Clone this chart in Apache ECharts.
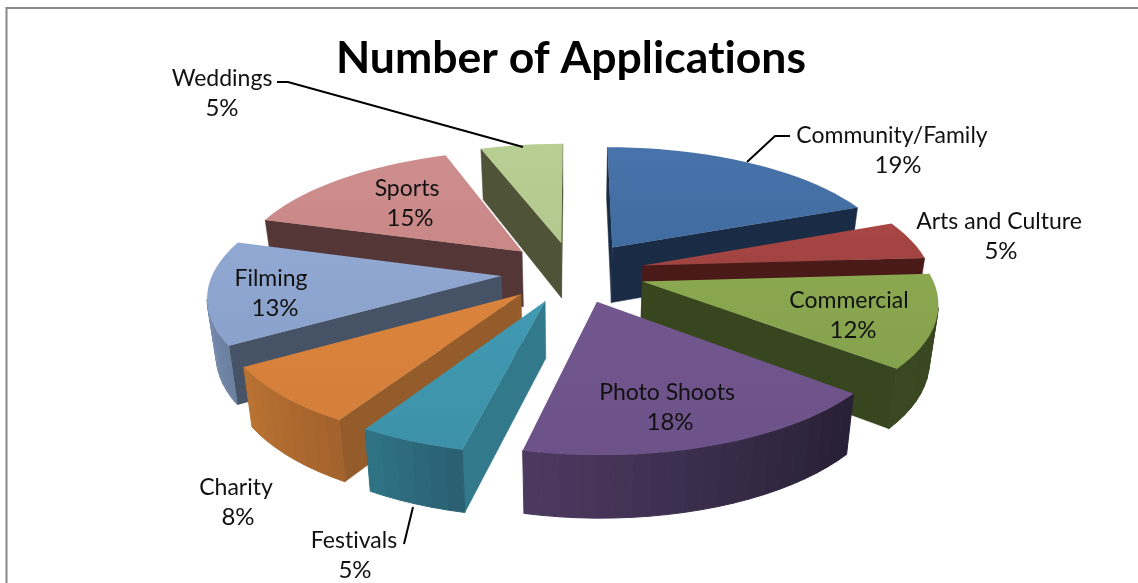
<!DOCTYPE html>
<html><head><meta charset="utf-8">
<style>html,body{margin:0;padding:0;background:#fff}#c{width:1138px;height:583px}</style>
<script src="https://cdn.jsdelivr.net/npm/echarts@6/dist/echarts.min.js"></script>
</head><body><div id="c"></div>
<script>
// ---- data ----
const titleText = 'Number of Applications';
const categories = ['Community/Family','Arts and Culture','Commercial','Photo Shoots','Festivals','Charity','Filming','Sports','Weddings'];
const shares = [19,5,12,17.6,5,7.6,13.4,15,5.4];

// ---- style ----
const topColors = [['#4773aa','#416ca1'],['#a84644','#a04340'],['#8aa850','#85a24c'],['#72578e','#6c5288'],['#409ab2','#3d92a9'],['#da833c','#d47f3a'],['#91a9d2','#8aa2cb'],['#ce8e8e','#c98886'],['#b8ce92','#b2c88c']];
const radialColors = ['#1a2c45','#4a1a18','#384620','#2c2340','#33798c','#945c2a','#465266','#553637','#4f5337'];
const outerColors = [['#1a2c45','#1a2c45'],['#4a1a18','#4a1a18'],['#384620','#3a4822'],['#272036','#4e3a62'],['#2a6072','#2f7688'],['#a4622c','#bb7433'],['#6c80a0','#8ba2c8'],['#553637','#553637'],['#4f5337','#4f5337']];
const labelSpots = [[892,136],[999,222],[849,301],[667,393],[354,541],[236,488],[271,279],[407,189],[222,79]];
const percentShift = [6,2,4,3,1,2,4,3,0];
const leaderLines = [[[790,136],[775,136],[747,162]],[[404,544],[413,507]],[[277,82],[288,82],[523,147]]];
const view = {cx:573, cy:272, A:288, B:121.5, k:0.145, explode:0.25, depth:56, shrink:0.975};
const FONT = 'Lato';

// draw text without the "ti" ligature, as in the picture
const nativeGetContext = HTMLCanvasElement.prototype.getContext;
HTMLCanvasElement.prototype.getContext = function(){
  const ctx = nativeGetContext.apply(this, arguments);
  if (ctx && 'textRendering' in ctx) ctx.textRendering = 'optimizeSpeed';
  return ctx;
};

function hex(c){return [1,3,5].map(i=>parseInt(c.substr(i,2),16));}
function mix(a,b,t){const p=hex(a),q=hex(b);return 'rgb('+p.map((v,i)=>Math.round(v+(q[i]-v)*t)).join(',')+')';}
function project(x,y){const p=1/(1+view.k*y);return [view.cx+view.A*x*p, view.cy-view.B*y*p, p];}
function lower(pt){return [view.cx+(pt[0]-view.cx)*view.shrink, pt[1]+view.depth*Math.pow(pt[2],0.6)];}
function cross(o,a,b){return (a[0]-o[0])*(b[1]-o[1])-(a[1]-o[1])*(b[0]-o[0]);}

const total = shares.reduce((a,b)=>a+b,0);
const sliceInfo = []; let run = 0;
shares.forEach(v=>{const a0=run/total*2*Math.PI; run+=v; const a1=run/total*2*Math.PI; sliceInfo.push({a0,a1,mid:(a0+a1)/2});});
const backToFront = sliceInfo.map((s,i)=>i).sort((i,j)=>Math.cos(sliceInfo[j].mid)-Math.cos(sliceInfo[i].mid));

function renderSlice(params, api){
  const i = api.value(0);
  const s = sliceInfo[i];
  const ox = view.explode*Math.sin(s.mid), oy = view.explode*Math.cos(s.mid);
  const rim = a => project(ox+Math.sin(a), oy+Math.cos(a));
  const apex = project(ox,oy);
  const rank = backToFront.indexOf(i);
  const base = rank*10;
  const children = [];
  const steps = Math.max(4,Math.round((s.a1-s.a0)/(3*Math.PI/180)));
  const arc = [];
  for(let n=0;n<=steps;n++) arc.push(rim(s.a0+(s.a1-s.a0)*n/steps));
  const midPt = arc[Math.floor(steps/2)];
  const poly = (pts,fill,z,w)=>children.push({type:'polygon',z2:z,shape:{points:pts.map(q=>[q[0],q[1]])},style:{fill,stroke:fill,lineWidth:w,lineJoin:'round'}});
  // radial walls
  [arc[0],arc[steps]].forEach(e=>{
    const inner = cross(apex,e,midPt), down = cross(apex,e,[apex[0],apex[1]+10]);
    if(inner*down<0) poly([apex,e,lower(e),lower(apex)],radialColors[i],base+1,0.5);
  });
  // outer wall, strip by strip
  for(let n=0;n<steps;n++){
    const a=arc[n],b=arc[n+1];
    const inner=cross(a,b,apex),down=cross(a,b,[a[0],a[1]+10]);
    if(inner*down<0) poly([a,b,lower(b),lower(a)],mix(outerColors[i][0],outerColors[i][1],n/steps),base+2,1);
  }
  // top face
  const top=[apex].concat(arc);
  children.push({type:'polygon',z2:base+3,shape:{points:top.map(q=>[q[0],q[1]])},
    style:{fill:new echarts.graphic.LinearGradient(0,0,0,1,[{offset:0,color:topColors[i][0]},{offset:1,color:topColors[i][1]}])}});
  return {type:'group',children};
}

const graphicItems = [
  {type:'rect',z:0,shape:{x:6.5,y:8,width:1160,height:620},style:{fill:'#fff',stroke:'#888888',lineWidth:2}}
];
categories.forEach((name,i)=>{
  graphicItems.push({type:'text',z:20,style:{x:labelSpots[i][0],y:labelSpots[i][1],text:name,font:'23px '+FONT,fill:'#111',textAlign:'center',textVerticalAlign:'middle'}});
  graphicItems.push({type:'text',z:20,style:{x:labelSpots[i][0]+percentShift[i],y:labelSpots[i][1]+29.5,text:Math.round(shares[i]/total*100)+'%',font:'24px '+FONT,fill:'#111',textAlign:'center',textVerticalAlign:'middle'}});
});
leaderLines.forEach(pts=>graphicItems.push({type:'polyline',z:19,shape:{points:pts},style:{fill:'none',stroke:'#000',lineWidth:2}}));

const chart = echarts.init(document.getElementById('c'),null,{renderer:'canvas'});
chart.setOption({
  animation:false,
  backgroundColor:'#fff',
  title:{text:titleText,left:566,top:31,textAlign:'center',textStyle:{fontFamily:FONT,fontWeight:'bold',fontSize:44.5,color:'#000'}},
  xAxis:{show:false,type:'value',min:0,max:1},
  yAxis:{show:false,type:'value',min:0,max:1},
  grid:{left:0,right:0,top:0,bottom:0},
  series:[{type:'custom',coordinateSystem:'none',renderItem:renderSlice,silent:true,z:5,
    data:categories.map((n,i)=>({name:n,value:[i,shares[i]]}))}],
  graphic:graphicItems
});
</script></body></html>
